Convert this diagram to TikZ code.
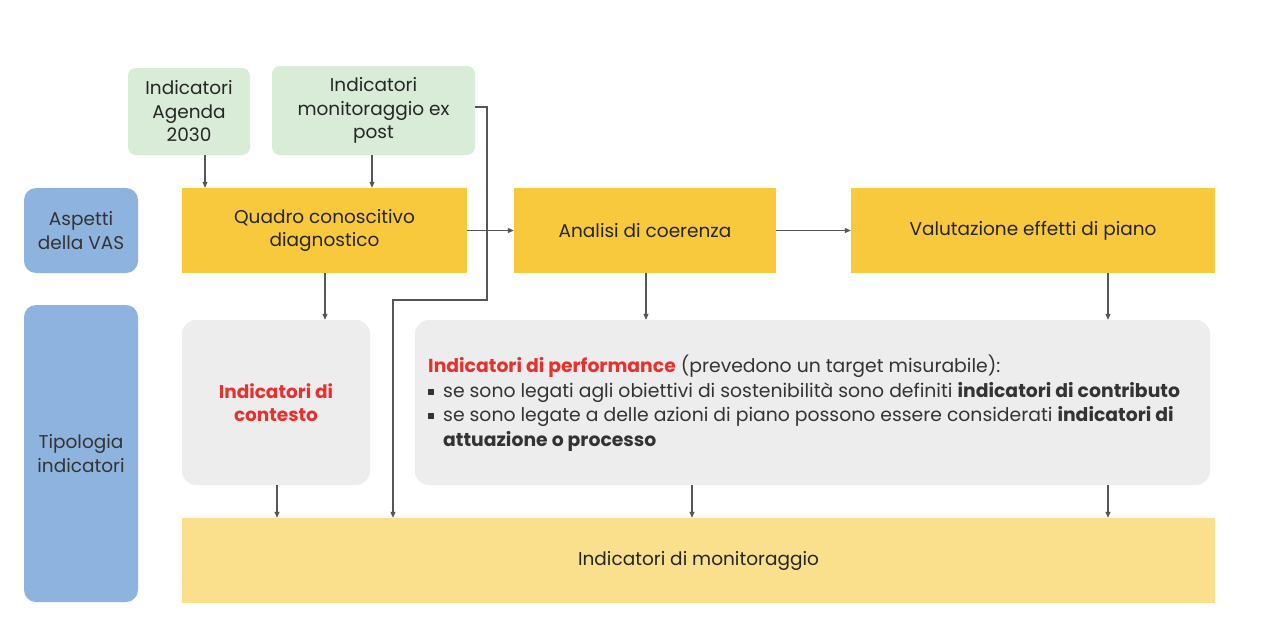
\documentclass[tikz,border=0pt]{standalone}
\usepackage{fontspec}
\setmainfont{Poppins}
\usetikzlibrary{arrows.meta,positioning}
\definecolor{yel}{HTML}{F8C93C}
\definecolor{yellight}{HTML}{FAE08C}
\definecolor{grn}{HTML}{D8ECD8}
\definecolor{blu}{HTML}{8FB3DF}
\definecolor{gry}{HTML}{EDEDED}
\definecolor{redt}{HTML}{E8312F}
\definecolor{arr}{HTML}{5A5555}
\tikzset{
  box/.style={inner sep=0pt, align=center, font=\fontsize{18.5}{23.5}\selectfont, text=black!85},
  ybox/.style={box, fill=yel},
  gbox/.style={box, fill=grn, rounded corners=8pt},
  bbox/.style={box, fill=blu, rounded corners=12pt, text=black!80},
  greybox/.style={box, fill=gry, rounded corners=14pt},
  conn/.style={draw=arr, line width=1.1pt, -{Triangle[length=6pt,width=5pt]}},
}
\begin{document}
\begin{tikzpicture}[x=1pt,y=-1pt]
\useasboundingbox[fill=white] (0,0) rectangle (1262,641);
% green
\node[gbox, minimum width=122pt, minimum height=87pt] (agenda) at (189,111.5) {Indicatori\\Agenda\\2030};
\node[gbox, minimum width=203pt, minimum height=89pt] (expost) at (373.5,110.5) {Indicatori\\monitoraggio ex\\post};
% blue
\node[bbox, minimum width=114pt, minimum height=85pt] (aspetti) at (81,230.5) {Aspetti\\della VAS};
\node[bbox, minimum width=114pt, minimum height=297pt] (tipologia) at (81,453.5) {Tipologia\\indicatori};
% yellow top
\node[ybox, minimum width=285pt, minimum height=85pt] (quadro) at (324.5,230.5) {Quadro conoscitivo\\diagnostico};
\node[ybox, minimum width=262pt, minimum height=85pt] (analisi) at (645,230.5) {Analisi di coerenza};
\node[ybox, minimum width=364pt, minimum height=85pt] (valut) at (1033,230.5) {Valutazione effetti di piano};
% grey
\node[greybox, minimum width=188pt, minimum height=165pt, text=redt, font=\fontsize{18.5}{23.5}\selectfont\bfseries] (contesto) at (276,402.5) {Indicatori di\\contesto};
\node[greybox, minimum width=795pt, minimum height=165pt] (perf) at (812.5,402.5) {};
\node[anchor=north west, inner sep=0pt, align=left, font=\fontsize{18.8}{24.5}\selectfont, text=black!80] (perftext) at (428,355) {%
\textcolor{redt}{\bfseries Indicatori di performance} (prevedono un target misurabile):\\
\rule[0.25ex]{6pt}{6pt}\hspace{9pt}se sono legati agli obiettivi di sostenibilità sono definiti \textbf{indicatori di contributo}\\
\rule[0.25ex]{6pt}{6pt}\hspace{9pt}se sono legate a delle azioni di piano possono essere considerati \textbf{indicatori di}\\
\hspace{15pt}\textbf{attuazione o processo}};
% bottom
\node[box, fill=yellight, minimum width=1033pt, minimum height=85pt] (monit) at (698.5,560.5) {Indicatori di monitoraggio};
% connectors
\draw[conn] (agenda.south -| 205,0) -- (quadro.north -| 205,0);
\draw[conn] (expost.south -| 372,0) -- (quadro.north -| 372,0);
\draw[conn] (expost.east |- 0,107) -- (487,107) -- (487,300) -- (393,300) -- (monit.north -| 393,0);
\draw[conn] (quadro.east) -- (analisi.west);
\draw[conn] (analisi.east) -- (valut.west);
\draw[conn] (quadro.south -| 325,0) -- (contesto.north -| 325,0);
\draw[conn] (analisi.south -| 646,0) -- (perf.north -| 646,0);
\draw[conn] (valut.south -| 1108,0) -- (perf.north -| 1108,0);
\draw[conn] (contesto.south -| 277,0) -- (monit.north -| 277,0);
\draw[conn] (perf.south -| 692,0) -- (monit.north -| 692,0);
\draw[conn] (perf.south -| 1108,0) -- (monit.north -| 1108,0);
\end{tikzpicture}
\end{document}
